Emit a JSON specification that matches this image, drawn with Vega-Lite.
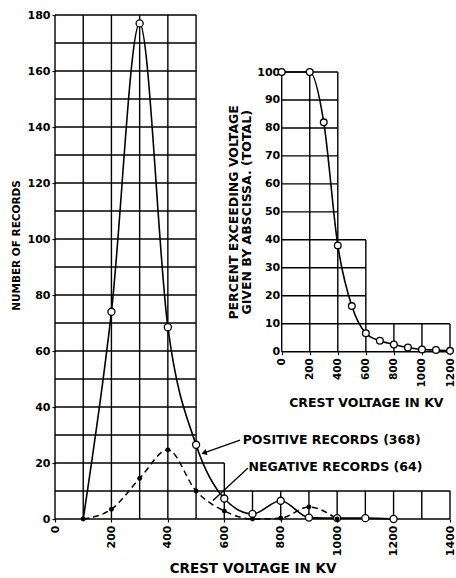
{
  "$schema": "https://vega.github.io/schema/vega-lite/v6.json",
  "width": 395,
  "height": 504,
  "autosize": {"type": "none"},
  "padding": {"left": 55, "top": 15, "right": 6, "bottom": 59},
  "background": "white",
  "config": {
    "view": {"stroke": null},
    "font": "DejaVu Sans",
    "axis": {
      "domain": false,
      "grid": false,
      "format": "d",
      "tickColor": "black",
      "tickSize": 3,
      "tickWidth": 1.2,
      "labelColor": "black",
      "labelFont": "DejaVu Sans",
      "labelFontWeight": "bold",
      "labelFontSize": 11,
      "titleColor": "black",
      "titleFont": "DejaVu Sans",
      "titleFontWeight": "bold"
    }
  },
  "datasets": {
    "records": [
      {"kv": 100, "positive": 0, "negative": 0},
      {"kv": 200, "positive": 74, "negative": 3.5},
      {"kv": 300, "positive": 177, "negative": 14.5},
      {"kv": 400, "positive": 68.5, "negative": 24.7},
      {"kv": 500, "positive": 26.5, "negative": 10},
      {"kv": 600, "positive": 7.3, "negative": 2.9},
      {"kv": 700, "positive": 1.8, "negative": 0},
      {"kv": 800, "positive": 6.5, "negative": 0.3},
      {"kv": 900, "positive": 0.5, "negative": 4.3},
      {"kv": 1000, "positive": 0.3, "negative": 0},
      {"kv": 1100, "positive": 0.3, "negative": null},
      {"kv": 1200, "positive": 0, "negative": null}
    ],
    "exceed": [
      {"kv": 0, "pct": 100},
      {"kv": 200, "pct": 100},
      {"kv": 300, "pct": 82},
      {"kv": 400, "pct": 38},
      {"kv": 500, "pct": 16.3},
      {"kv": 600, "pct": 6.6},
      {"kv": 700, "pct": 3.9},
      {"kv": 800, "pct": 2.6},
      {"kv": 900, "pct": 1.5},
      {"kv": 1000, "pct": 0.8},
      {"kv": 1100, "pct": 0.6},
      {"kv": 1200, "pct": 0.3}
    ],
    "mainV": [
      {"kv": 0, "bottom": 0, "top": 180}, {"kv": 100, "bottom": 0, "top": 180}, {"kv": 200, "bottom": 0, "top": 180},
      {"kv": 300, "bottom": 0, "top": 180}, {"kv": 400, "bottom": 0, "top": 180}, {"kv": 500, "bottom": 0, "top": 180},
      {"kv": 600, "bottom": 0, "top": 20}, {"kv": 700, "bottom": 0, "top": 10}, {"kv": 800, "bottom": 0, "top": 10},
      {"kv": 900, "bottom": 0, "top": 10}, {"kv": 1000, "bottom": 0, "top": 10}, {"kv": 1100, "bottom": 0, "top": 10},
      {"kv": 1200, "bottom": 0, "top": 10}, {"kv": 1300, "bottom": 0, "top": 10}, {"kv": 1400, "bottom": 0, "top": 10}
    ],
    "mainH": [
      {"n": 0, "left": 0, "right": 1400}, {"n": 10, "left": 0, "right": 1400}, {"n": 20, "left": 0, "right": 600},
      {"n": 30, "left": 0, "right": 500}, {"n": 40, "left": 0, "right": 500}, {"n": 50, "left": 0, "right": 500},
      {"n": 60, "left": 0, "right": 500}, {"n": 70, "left": 0, "right": 500}, {"n": 80, "left": 0, "right": 500},
      {"n": 90, "left": 0, "right": 500}, {"n": 100, "left": 0, "right": 500}, {"n": 110, "left": 0, "right": 500},
      {"n": 120, "left": 0, "right": 500}, {"n": 130, "left": 0, "right": 500}, {"n": 140, "left": 0, "right": 500},
      {"n": 150, "left": 0, "right": 500}, {"n": 160, "left": 0, "right": 500}, {"n": 170, "left": 0, "right": 500},
      {"n": 180, "left": 0, "right": 500}
    ],
    "insetV": [
      {"kv": 0, "bottom": 0, "top": 100}, {"kv": 200, "bottom": 0, "top": 100}, {"kv": 400, "bottom": 0, "top": 100},
      {"kv": 600, "bottom": 0, "top": 40}, {"kv": 800, "bottom": 0, "top": 10}, {"kv": 1000, "bottom": 0, "top": 10},
      {"kv": 1200, "bottom": 0, "top": 10}
    ],
    "insetH": [
      {"pct": 0, "left": 0, "right": 1200}, {"pct": 10, "left": 0, "right": 1200}, {"pct": 20, "left": 0, "right": 600},
      {"pct": 30, "left": 0, "right": 600}, {"pct": 40, "left": 0, "right": 600}, {"pct": 50, "left": 0, "right": 400},
      {"pct": 60, "left": 0, "right": 400}, {"pct": 70, "left": 0, "right": 400}, {"pct": 80, "left": 0, "right": 400},
      {"pct": 90, "left": 0, "right": 400}, {"pct": 100, "left": 0, "right": 400}
    ],
    "notes": [
      {"label": "POSITIVE RECORDS (368)", "kv": 665, "n": 28.3},
      {"label": "NEGATIVE RECORDS (64)", "kv": 686, "n": 18.6}
    ],
    "leaders": [
      {"kv": 656, "n": 28.2, "kv2": 528, "n2": 23.6},
      {"kv": 684, "n": 18.2, "kv2": 560, "n2": 6.6}
    ],
    "arrowheads": [
      {"kv": 528, "n": 23.6}
    ]
  },
  "layer": [
    {
      "layer": [
        {
          "data": {"name": "mainV"},
          "mark": {"type": "rule", "color": "black", "strokeWidth": 1.4},
          "encoding": {
            "x": {
              "field": "kv", "type": "quantitative",
              "scale": {"domain": [0, 1400], "nice": false, "zero": false},
              "axis": {
                "values": [0, 200, 400, 600, 800, 1000, 1200, 1400],
                "labelAngle": -90,
                "labelPadding": 3,
                "title": "CREST VOLTAGE IN KV",
                "titleFontSize": 13.5,
                "titlePadding": 6
              }
            },
            "y": {"field": "bottom", "type": "quantitative"},
            "y2": {"field": "top"}
          }
        },
        {
          "data": {"name": "mainH"},
          "mark": {"type": "rule", "color": "black", "strokeWidth": 1.4},
          "encoding": {
            "y": {
              "field": "n", "type": "quantitative",
              "scale": {"domain": [0, 180], "nice": false, "zero": false},
              "axis": {
                "values": [0, 10, 20, 30, 40, 50, 60, 70, 80, 90, 100, 110, 120, 130, 140, 150, 160, 170, 180],
                "labelExpr": "datum.value % 20 == 0 ? datum.label : ''",
                "labelPadding": 2,
                "title": "NUMBER OF RECORDS",
                "titleFontSize": 10.5,
                "titlePadding": 6,
                "titleY": 230
              }
            },
            "x": {"field": "left", "type": "quantitative"},
            "x2": {"field": "right"}
          }
        },
        {
          "data": {"name": "records"},
          "mark": {"type": "line", "color": "black", "strokeWidth": 1.5, "strokeDash": [6, 4], "interpolate": "monotone"},
          "encoding": {
            "x": {"field": "kv", "type": "quantitative"},
            "y": {"field": "negative", "type": "quantitative"}
          }
        },
        {
          "data": {"name": "records"},
          "mark": {"type": "line", "color": "black", "strokeWidth": 1.6, "interpolate": "monotone"},
          "encoding": {
            "x": {"field": "kv", "type": "quantitative"},
            "y": {"field": "positive", "type": "quantitative"}
          }
        },
        {
          "data": {"name": "records"},
          "transform": [{"filter": "datum.kv > 100"}],
          "mark": {"type": "point", "shape": "circle", "filled": true, "fill": "white", "stroke": "black", "strokeWidth": 1.3, "size": 50, "opacity": 1},
          "encoding": {
            "x": {"field": "kv", "type": "quantitative"},
            "y": {"field": "positive", "type": "quantitative"}
          }
        },
        {
          "data": {"name": "records"},
          "mark": {"type": "point", "shape": "circle", "filled": true, "color": "black", "size": 24, "opacity": 1},
          "encoding": {
            "x": {"field": "kv", "type": "quantitative"},
            "y": {"field": "negative", "type": "quantitative"}
          }
        },
        {
          "data": {"name": "leaders"},
          "mark": {"type": "rule", "color": "black", "strokeWidth": 1.3},
          "encoding": {
            "x": {"field": "kv", "type": "quantitative"},
            "y": {"field": "n", "type": "quantitative"},
            "x2": {"field": "kv2"},
            "y2": {"field": "n2"}
          }
        },
        {
          "data": {"name": "arrowheads"},
          "mark": {"type": "point", "shape": "triangle-left", "angle": 341, "filled": true, "color": "black", "size": 40, "opacity": 1},
          "encoding": {
            "x": {"field": "kv", "type": "quantitative"},
            "y": {"field": "n", "type": "quantitative"}
          }
        },
        {
          "data": {"name": "notes"},
          "mark": {"type": "text", "align": "left", "baseline": "middle", "font": "DejaVu Sans", "fontWeight": "bold", "fontSize": 12.5, "color": "black"},
          "encoding": {
            "x": {"field": "kv", "type": "quantitative"},
            "y": {"field": "n", "type": "quantitative"},
            "text": {"field": "label"}
          }
        }
      ]
    },
    {
      "layer": [
        {
          "data": {"name": "insetV"},
          "mark": {"type": "rule", "color": "black", "strokeWidth": 1.4},
          "encoding": {
            "x": {
              "field": "kv", "type": "quantitative",
              "scale": {"domain": [0, 1200], "range": [226.7, 395], "nice": false, "zero": false},
              "axis": {
                "values": [0, 200, 400, 600, 800, 1000, 1200],
                "orient": "bottom",
                "offset": -167.3,
                "labelAngle": -90,
                "labelPadding": 3,
                "labelFontSize": 10.5,
                "title": "CREST VOLTAGE IN KV",
                "titleFontSize": 12.5,
                "titlePadding": 10
              }
            },
            "y": {"field": "bottom", "type": "quantitative"},
            "y2": {"field": "top"}
          }
        },
        {
          "data": {"name": "insetH"},
          "mark": {"type": "rule", "color": "black", "strokeWidth": 1.4},
          "encoding": {
            "y": {
              "field": "pct", "type": "quantitative",
              "scale": {"domain": [0, 100], "range": [336.7, 57], "nice": false, "zero": false},
              "axis": {
                "values": [0, 10, 20, 30, 40, 50, 60, 70, 80, 90, 100],
                "orient": "left",
                "offset": -226.7,
                "labelPadding": 2,
                "tickSize": 0,
                "title": ["PERCENT EXCEEDING VOLTAGE", "GIVEN BY ABSCISSA. (TOTAL)"],
                "titleFontSize": 12.5,
                "titleLineHeight": 13,
                "titlePadding": 3
              }
            },
            "x": {"field": "left", "type": "quantitative"},
            "x2": {"field": "right"}
          }
        },
        {
          "data": {"name": "exceed"},
          "mark": {"type": "line", "color": "black", "strokeWidth": 1.6, "interpolate": "monotone"},
          "encoding": {
            "x": {"field": "kv", "type": "quantitative"},
            "y": {"field": "pct", "type": "quantitative"}
          }
        },
        {
          "data": {"name": "exceed"},
          "mark": {"type": "point", "shape": "circle", "filled": true, "fill": "white", "stroke": "black", "strokeWidth": 1.3, "size": 45, "opacity": 1},
          "encoding": {
            "x": {"field": "kv", "type": "quantitative"},
            "y": {"field": "pct", "type": "quantitative"}
          }
        }
      ]
    }
  ],
  "resolve": {
    "scale": {"x": "independent", "y": "independent"},
    "axis": {"x": "independent", "y": "independent"}
  }
}
